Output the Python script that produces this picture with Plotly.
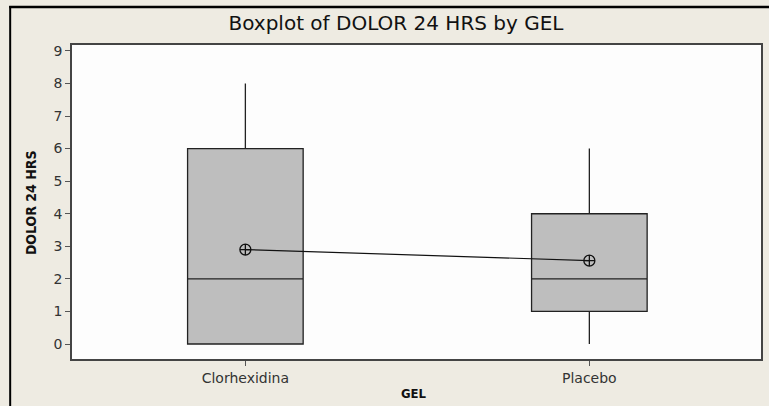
import plotly.graph_objects as go

# data
groups = ["Clorhexidina", "Placebo"]
q1 = [0, 1]
median = [2, 2]
q3 = [6, 4]
low = [0, 0]
high = [8, 6]
means = [2.9, 2.56]
yticks = [0, 1, 2, 3, 4, 5, 6, 7, 8, 9]

W, H = 769, 406
L, R, T, B = 72, 6, 45, 47
pw, ph = W - L - R, H - T - B


def px_x(x):
    return (x - L) / pw


def px_y(y):
    return (H - B - y) / ph


fig = go.Figure()

fig.add_trace(go.Box(
    x=groups, q1=q1, median=median, q3=q3,
    lowerfence=low, upperfence=high,
    width=0.336, whiskerwidth=0,
    fillcolor="#BEBEBE",
    line=dict(color="#222222", width=1.3),
    boxpoints=False, hoverinfo="skip", showlegend=False,
))

fig.add_trace(go.Scatter(
    x=groups, y=means, mode="lines+markers",
    line=dict(color="#111111", width=1.2),
    marker=dict(symbol="circle-cross-open", size=11, color="#111111",
                line=dict(width=1.3)),
    hoverinfo="skip", showlegend=False,
))

fig.update_layout(
    width=W, height=H,
    margin=dict(l=L, r=R, t=T, b=B),
    paper_bgcolor="#EEEBE2",
    plot_bgcolor="#FDFDFD",
    font=dict(family="DejaVu Sans", color="#333333", size=12),
    title=dict(text="Boxplot of DOLOR 24 HRS by GEL", x=396 / W, xanchor="center",
               y=1 - 23 / H, yanchor="middle",
               font=dict(family="DejaVu Sans", size=20, color="#111111")),
    xaxis=dict(type="category", range=[-0.504, 1.499], showgrid=False, zeroline=False,
               showline=True, linecolor="#444444", linewidth=1.5, mirror=True,
               ticks="outside", ticklen=5, tickcolor="#555555",
               tickfont=dict(size=14, color="#333333")),
    yaxis=dict(range=[-0.46, 9.18], tickvals=yticks, showgrid=False, zeroline=False,
               showline=True, linecolor="#444444", linewidth=1.5, mirror=True,
               ticks="outside", ticklen=5, tickcolor="#555555",
               tickfont=dict(size=14, color="#333333")),
    annotations=[
        dict(text="<b>DOLOR 24 HRS</b>", xref="paper", yref="paper",
             x=px_x(31), y=px_y(203), xanchor="center", yanchor="middle",
             textangle=-90, showarrow=False,
             font=dict(family="DejaVu Sans Condensed", size=14, color="#111111")),
        dict(text="<b>GEL</b>", xref="paper", yref="paper",
             x=px_x(415), y=px_y(393), xanchor="center", yanchor="middle",
             showarrow=False,
             font=dict(family="DejaVu Sans Condensed", size=13, color="#111111")),
    ],
    shapes=[
        dict(type="line", xref="paper", yref="paper", layer="above",
             x0=px_x(10), x1=px_x(10), y0=px_y(6), y1=px_y(410),
             line=dict(color="black", width=2)),
        dict(type="line", xref="paper", yref="paper", layer="above",
             x0=px_x(9), x1=px_x(772), y0=px_y(7), y1=px_y(7),
             line=dict(color="black", width=2.5)),
    ],
)

# drop the default body margin so the figure sits at the page origin
fig.write_html("out.html", config={"displayModeBar": False},
               post_script="document.body.style.margin='0';")
